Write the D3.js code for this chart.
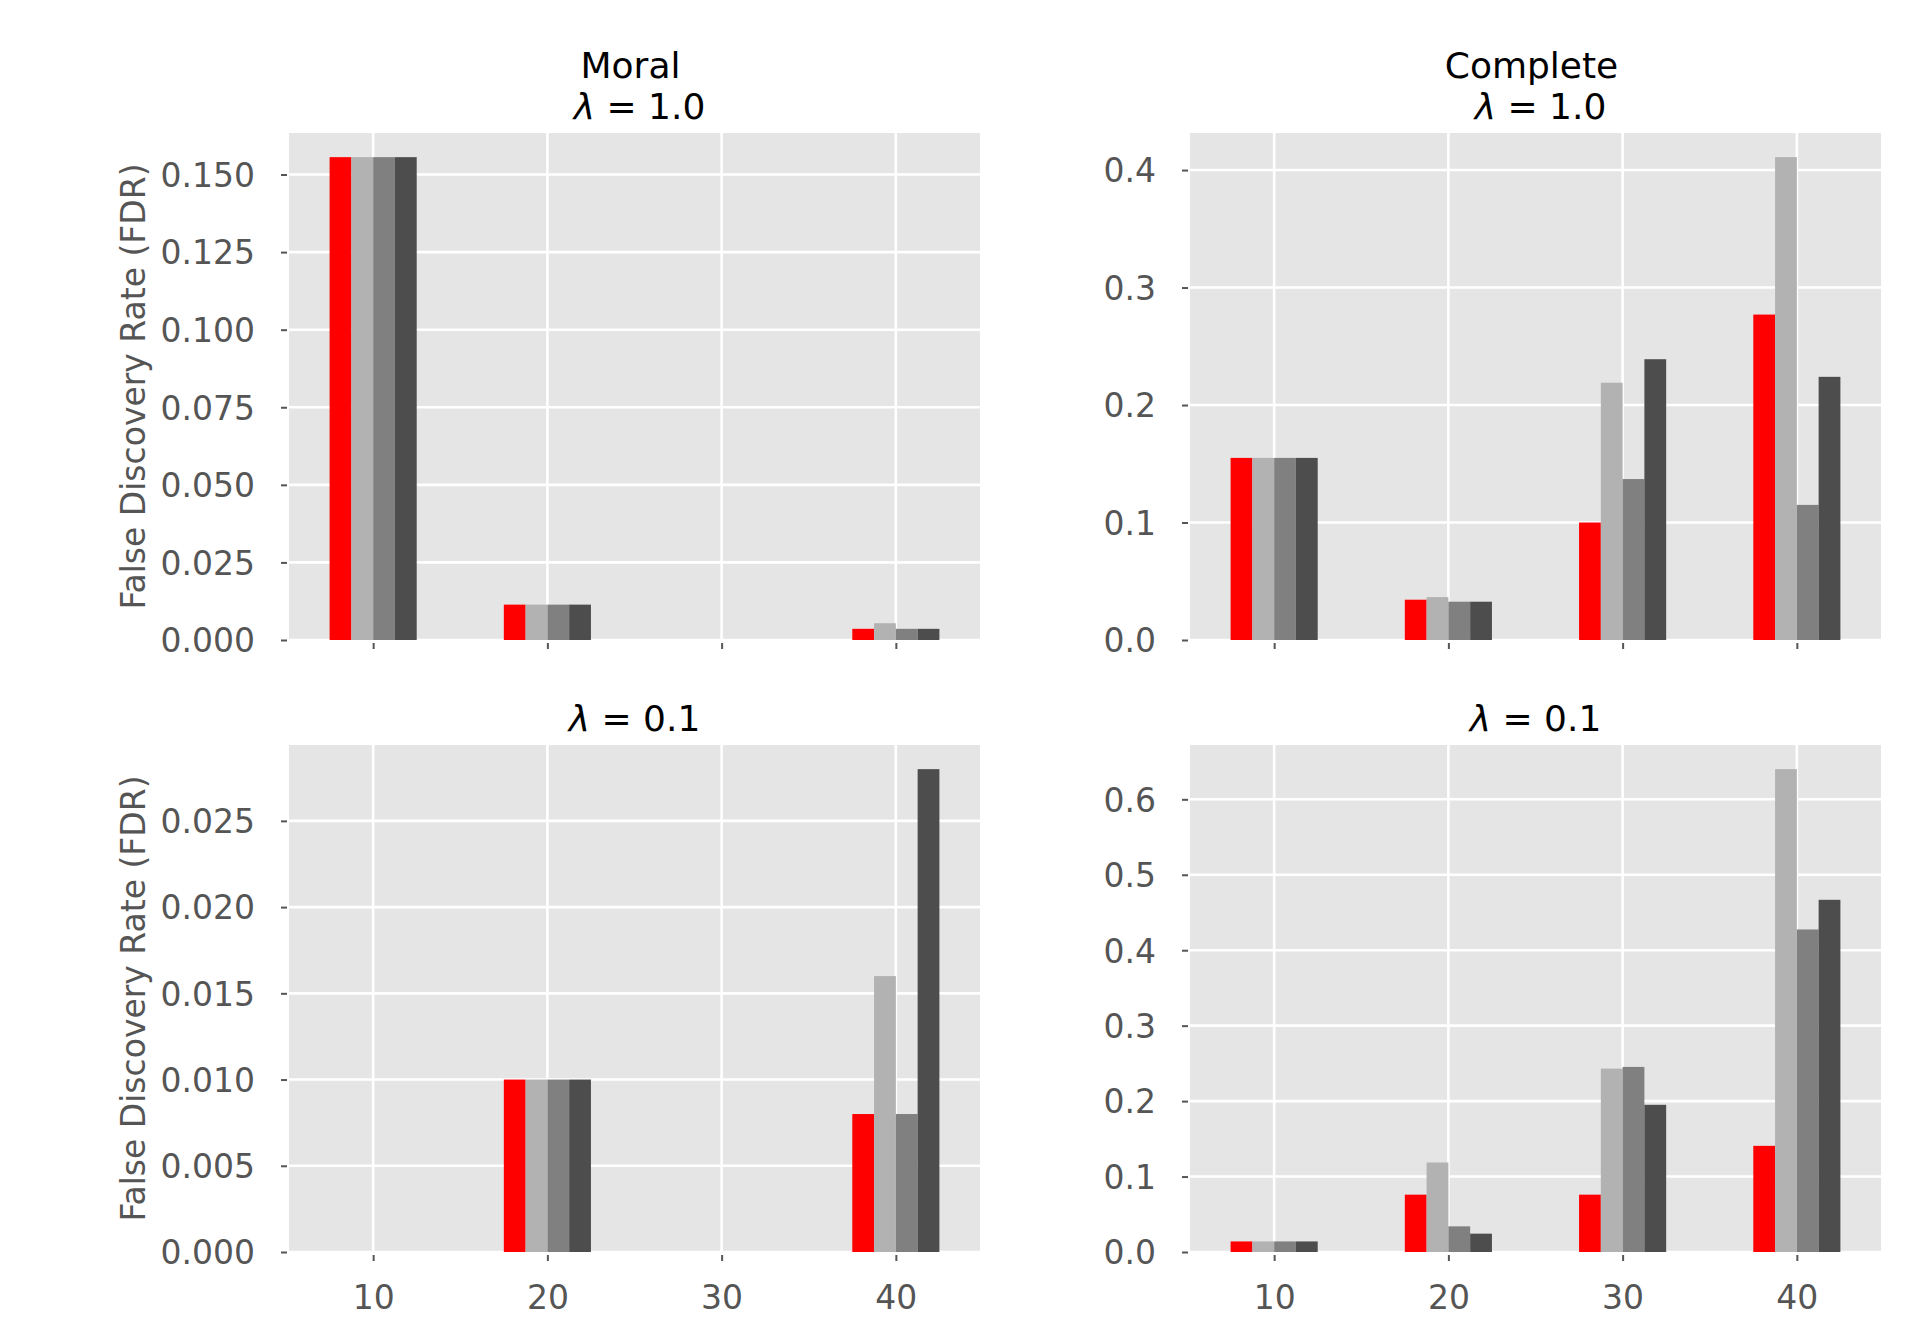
<!DOCTYPE html>
<html>
<head>
<meta charset="utf-8">
<script src="https://cdn.jsdelivr.net/npm/d3@7"></script>
<style>
	body { margin: 0; background: #fff; }
	svg { display: block; font-family: "DejaVu Sans", sans-serif; }
</style>
</head>
<body>
<div id="chart"></div>
<script>
// x categories (number of variables) shared by all panels
var sizes = [10, 20, 30, 40];
var seriesColors = ["#ff0000", "#b2b2b2", "#808080", "#4d4d4d"];

// Moral, lambda = 1.0 (one array per series)
var moralHi = [
	[0.1556, 0.0114, 0, 0.0036],
	[0.1556, 0.0114, 0, 0.0054],
	[0.1556, 0.0114, 0, 0.0036],
	[0.1556, 0.0114, 0, 0.0036]
];
// Complete, lambda = 1.0
var completeHi = [
	[0.155, 0.0343, 0.100, 0.277],
	[0.155, 0.0365, 0.219, 0.411],
	[0.155, 0.0326, 0.137, 0.115],
	[0.155, 0.0326, 0.239, 0.224]
];
// Moral, lambda = 0.1
var moralLo = [
	[0, 0.010, 0, 0.008],
	[0, 0.010, 0, 0.016],
	[0, 0.010, 0, 0.008],
	[0, 0.010, 0, 0.028]
];
// Complete, lambda = 0.1
var completeLo = [
	[0.014, 0.076, 0.076, 0.1407],
	[0.014, 0.1186, 0.2431, 0.640],
	[0.014, 0.034, 0.2453, 0.4275],
	[0.014, 0.0243, 0.1951, 0.4668]
];

var ticksMoralHi = [0, 0.025, 0.05, 0.075, 0.1, 0.125, 0.15];
var ticksCompleteHi = [0, 0.1, 0.2, 0.3, 0.4];
var ticksMoralLo = [0, 0.005, 0.01, 0.015, 0.02, 0.025];
var ticksCompleteLo = [0, 0.1, 0.2, 0.3, 0.4, 0.5, 0.6];

var width = 1920, height = 1320;
var pw = 691, ph = 507;
var barW = 1.25;

var svg = d3.select("#chart").append("svg")
	.attr("width", width)
	.attr("height", height);

var panels = [
	{ data: moralHi, ticks: ticksMoralHi, fmt: ".3f", x: 289, y: 133, title: "Moral", lam: "1.0", ylabel: true, xlabels: false },
	{ data: completeHi, ticks: ticksCompleteHi, fmt: ".1f", x: 1190, y: 133, title: "Complete", lam: "1.0", ylabel: false, xlabels: false },
	{ data: moralLo, ticks: ticksMoralLo, fmt: ".3f", x: 289, y: 745, title: null, lam: "0.1", ylabel: true, xlabels: true },
	{ data: completeLo, ticks: ticksCompleteLo, fmt: ".1f", x: 1190, y: 745, title: null, lam: "0.1", ylabel: false, xlabels: true }
];

panels.forEach(function (p) {
	var g = svg.append("g").attr("transform", "translate(" + p.x + "," + p.y + ")");

	var xScale = d3.scaleLinear().domain([5.17, 44.83]).range([0, pw]);
	var ymax = d3.max(p.data, function (s) { return d3.max(s); }) * 1.05;
	var yScale = d3.scaleLinear().domain([0, ymax]).range([ph, 0]);

	// background
	g.append("rect")
		.attr("width", pw)
		.attr("height", ph)
		.attr("fill", "#e5e5e5");

	// grid
	g.selectAll(".hgrid").data(p.ticks)
		.enter().append("line")
		.attr("x1", 0).attr("x2", pw)
		.attr("y1", function (d) { return yScale(d); })
		.attr("y2", function (d) { return yScale(d); })
		.attr("stroke", "#fff")
		.attr("stroke-width", 2.6);
	g.selectAll(".vgrid").data(sizes)
		.enter().append("line")
		.attr("y1", 0).attr("y2", ph)
		.attr("x1", function (d) { return xScale(d); })
		.attr("x2", function (d) { return xScale(d); })
		.attr("stroke", "#fff")
		.attr("stroke-width", 2.6);

	// bars
	p.data.forEach(function (series, si) {
		g.selectAll(".bar" + si).data(series)
			.enter().append("rect")
			.attr("x", function (d, i) { return xScale(sizes[i] + (si - 2) * barW); })
			.attr("width", xScale(barW) - xScale(0))
			.attr("y", function (d) { return yScale(d); })
			.attr("height", function (d) { return ph - yScale(d); })
			.attr("fill", seriesColors[si]);
	});

	// y axis
	var yAxis = g.append("g")
		.call(d3.axisLeft(yScale).tickValues(p.ticks).tickFormat(d3.format(p.fmt)).tickSize(8).tickPadding(26));
	yAxis.select(".domain").remove();
	yAxis.selectAll(".tick line")
		.attr("x1", -2)
		.attr("stroke", "#555")
		.attr("stroke-width", 2);
	yAxis.selectAll(".tick text")
		.attr("fill", "#555")
		.attr("font-size", "33px")
		.attr("font-family", "DejaVu Sans")
		.attr("dy", "0.36em");

	// x axis
	var xAxis = g.append("g")
		.attr("transform", "translate(0," + ph + ")")
		.call(d3.axisBottom(xScale).tickValues(sizes).tickFormat(p.xlabels ? d3.format("d") : "").tickSize(9).tickPadding(25));
	xAxis.select(".domain").remove();
	xAxis.selectAll(".tick line")
		.attr("y1", 3)
		.attr("stroke", "#555")
		.attr("stroke-width", 2);
	xAxis.selectAll(".tick text")
		.attr("fill", "#555")
		.attr("font-size", "33px")
		.attr("font-family", "DejaVu Sans");

	// titles
	var cx = pw / 2;
	var lamX = cx, lamY = -14;
	if (p.title) {
		g.append("text")
			.attr("x", cx - 4)
			.attr("y", -55)
			.attr("text-anchor", "middle")
			.attr("font-size", "36px")
			.attr("fill", "#000")
			.text(p.title);
		lamX = cx + 5;
	}
	var lt = g.append("text")
		.attr("x", lamX)
		.attr("y", lamY)
		.attr("text-anchor", "middle")
		.attr("font-size", "36px")
		.attr("fill", "#000");
	lt.append("tspan").attr("font-style", "italic").text("λ");
	lt.append("tspan").text(" = " + p.lam);

	// y label
	if (p.ylabel) {
		g.append("text")
			.attr("transform", "translate(" + (145 - p.x) + "," + (ph / 2) + ") rotate(-90)")
			.attr("text-anchor", "middle")
			.attr("font-size", "33px")
			.attr("fill", "#555")
			.text("False Discovery Rate (FDR)");
	}
});
</script>
</body>
</html>
